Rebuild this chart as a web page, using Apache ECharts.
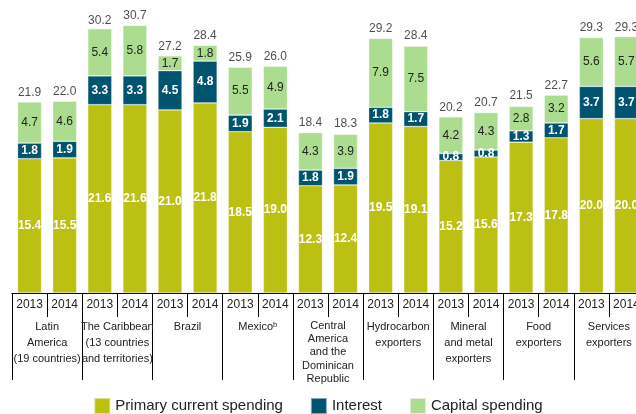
<!DOCTYPE html>
<html>
<head>
<meta charset="utf-8">
<script src="https://cdn.jsdelivr.net/npm/echarts@6/dist/echarts.min.js"></script>
<style>
  html, body { margin: 0; padding: 0; background: #fff; }
  #chart { width: 636px; height: 414px; }
</style>
</head>
<body>
<div id="chart"></div>
<script>
const years = ['2013', '2014', '2013', '2014', '2013', '2014', '2013', '2014', '2013', '2014',
  '2013', '2014', '2013', '2014', '2013', '2014', '2013', '2014']
const groups = [
  'Latin\nAmerica\n(19 countries)',
  'The Caribbean\n(13 countries\nand territories)',
  'Brazil',
  'Mexicoᵇ',
  'Central\nAmerica\nand the\nDominican\nRepublic',
  'Hydrocarbon\nexporters',
  'Mineral\nand metal\nexporters',
  'Food\nexporters',
  'Services\nexporters'
]
const primary = [15.4, 15.5, 21.6, 21.6, 21.0, 21.8, 18.5, 19.0, 12.3, 12.4, 19.5, 19.1, 15.2, 15.6, 17.3, 17.8, 20.0, 20.0]
const interest = [1.8, 1.9, 3.3, 3.3, 4.5, 4.8, 1.9, 2.1, 1.8, 1.9, 1.8, 1.7, 0.8, 0.8, 1.3, 1.7, 3.7, 3.7]
const capital = [4.7, 4.6, 5.4, 5.8, 1.7, 1.8, 5.5, 4.9, 4.3, 3.9, 7.9, 7.5, 4.2, 4.3, 2.8, 3.2, 5.6, 5.7]
const totals = [21.9, 22.0, 30.2, 30.7, 27.2, 28.4, 25.9, 26.0, 18.4, 18.3, 29.2, 28.4, 20.2, 20.7, 21.5, 22.7, 29.3, 29.3]

const font = 'Liberation Sans, Arial, sans-serif'
const fmt = p => p.value.toFixed(1)

const chart = echarts.init(document.getElementById('chart'))
chart.setOption({
  animation: false,
  textStyle: { fontFamily: font },
  // the plot runs past the right edge, last bar is cut like in the source
  grid: { left: 12, right: -8, top: 14, bottom: 121, outerBoundsMode: 'none', containLabel: false },
  legend: {
    data: ['Primary current spending', 'Interest', 'Capital spending'],
    top: 397,
    left: 'center',
    padding: 0,
    icon: 'rect',
    itemWidth: 16,
    itemHeight: 16,
    itemGap: 27,
    textStyle: { fontSize: 15, color: '#222', fontFamily: font }
  },
  xAxis: [{
    type: 'category',
    data: years,
    axisLine: { lineStyle: { color: '#000', width: 1 } },
    axisTick: { show: true, interval: 0, length: 24, lineStyle: { color: '#000' } },
    axisLabel: { interval: 0, fontSize: 12, color: '#222', margin: 6, fontFamily: font }
  }, {
    type: 'category',
    data: groups,
    position: 'bottom',
    axisLine: { show: true, lineStyle: { color: '#000', width: 1 } },
    axisTick: { show: true, interval: 0, length: 87, lineStyle: { color: '#000' } },
    axisLabel: {
      interval: 0, fontSize: 11, color: '#222', margin: 26, lineHeight: 16, fontFamily: font,
      formatter: (v, i) => i === 4 ? v.split('\n').map(s => '{t|' + s + '}').join('\n') : v,
      rich: { t: { fontSize: 11, lineHeight: 13.3, color: '#222', fontFamily: font } }
    }
  }],
  yAxis: {
    type: 'value',
    min: 0,
    max: 32,
    show: false
  },
  series: [{
    name: 'Primary current spending',
    type: 'bar',
    stack: 'total',
    data: primary,
    barWidth: 24,
    itemStyle: { color: '#bcc012', borderColor: 'rgba(255,255,255,0.5)', borderWidth: 0.6 },
    label: { show: true, position: 'inside', color: '#fff', fontWeight: 'bold', fontSize: 12, formatter: fmt }
  }, {
    name: 'Interest',
    type: 'bar',
    stack: 'total',
    data: interest,
    barWidth: 24,
    itemStyle: { color: '#005470', borderColor: 'rgba(255,255,255,0.5)', borderWidth: 0.6 },
    label: { show: true, position: 'inside', color: '#fff', fontWeight: 'bold', fontSize: 12, formatter: fmt }
  }, {
    name: 'Capital spending',
    type: 'bar',
    stack: 'total',
    data: capital,
    barWidth: 24,
    itemStyle: { color: '#acdc8f', borderColor: 'rgba(255,255,255,0.6)', borderWidth: 0.6 },
    label: { show: true, position: 'inside', color: '#222', fontSize: 12, formatter: fmt }
  }, {
    name: 'Total',
    type: 'scatter',
    data: totals,
    symbolSize: 1,
    itemStyle: { color: 'rgba(0,0,0,0)' },
    label: { show: true, position: 'top', distance: 3, color: '#222', fontSize: 12, formatter: fmt },
    silent: true
  }]
})
</script>
</body>
</html>
